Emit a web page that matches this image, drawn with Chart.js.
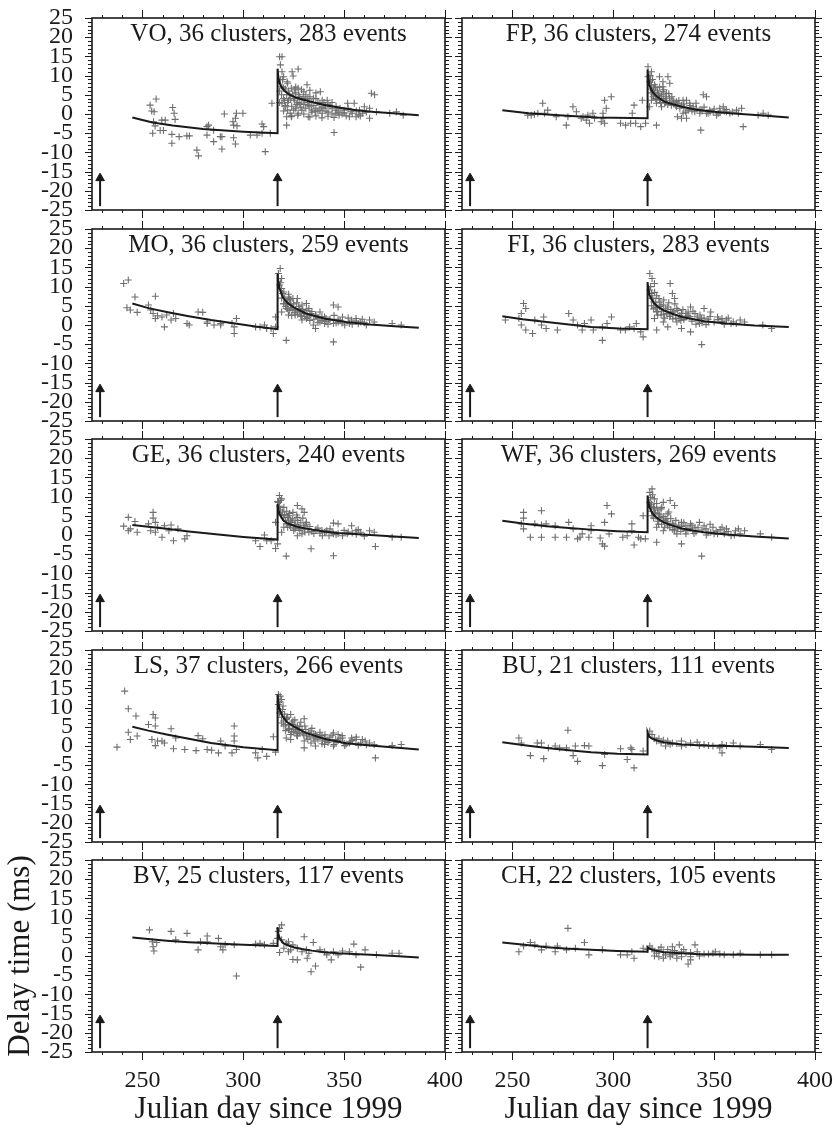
<!DOCTYPE html>
<html>
<head>
<meta charset="utf-8">
<script src="https://cdn.jsdelivr.net/npm/chart.js@4.4.1/dist/chart.umd.min.js"></script>
<style>
  html, body { margin: 0; padding: 0; background: #fff; }
  body { width: 836px; height: 1126px; position: relative; overflow: hidden; }
  canvas { position: absolute; }
</style>
</head>
<body>
<script>
const stations = ["VO", "FP", "MO", "FI", "GE", "WF", "LS", "BU", "BV", "CH"];
const clusters = [36, 36, 36, 36, 36, 36, 37, 21, 25, 22];
const events = [283, 274, 259, 283, 240, 269, 266, 111, 117, 105];

const xTicks = [250, 300, 350, 400];
const yTicks = [-25, -20, -15, -10, -5, 0, 5, 10, 15, 20, 25];
const arrowDays = [229, 317];
const arrowFrom = -24;
const arrowTo = -16.7;

// ================== delay times [day, ms] ==================
const voPoints = [
  [253.8,2.3],[256.8,3.9],[254.6,0.8],[255.8,0.6],[255.5,-2.0],[256.3,-3.1],[255.1,-5.0],[258.8,-4.3],[260.4,-4.3],[259.6,-1.6],
  [261.3,-1.6],[265,1.7],[265.7,0.2],[266.2,-1.4],[264.6,-5.3],[264.6,-7.6],[268.2,-5.9],[272,-5.7],[273.3,-5.7],[277,-9.4],
  [277.8,-10.9],[282,-3.3],[282.8,-2.9],[282,-5.5],[285.3,-4.2],[285.3,-7.2],[288.6,-5.9],[289.4,-5.9],[289.4,-9.1],[290.6,0.0],
  [294.9,-2.0],[295.2,-2.9],[296.1,-1.1],[296.6,0.2],[296.9,-3.1],[295.2,-6.2],[296.1,-7.8],[299.8,0.2],[303.5,-5.5],[306.8,-5.5],
  [309.3,-2.6],[310.1,-3.3],[310.9,-9.8],[309.3,-5.0],[313.4,-5.0],[314.2,2.8],
  [318,14.9],[319.2,14.9],[318.4,12.8],[319.2,11.0],[320,9.7],[318.4,8.9],[324.2,11.0],[327.2,11.7],[324.7,9.9],[331.6,7.6],
  [321.5,5.0],[322.4,3.6],[320.7,1.9],[323.2,0.2],[321.5,-0.7],[323.8,6.7],[325.5,6.3],[327.2,6.7],[328.9,6.3],[329.7,4.5],
  [325.5,3.6],[328,2.8],[330.5,3.6],[332.2,2.3],[333.9,1.0],[334.8,4.1],[338.2,5.8],[339.1,3.6],[341.6,3.6],[340.7,2.3],
  [344,1.5],[345.9,0.2],[347.5,-0.3],[345,-4.8],[321.5,-2.9],[323.8,-0.7],[327.2,0.2],[332.2,-0.7],[335.6,0.6],[339.1,0.2],
  [351.7,2.8],[355,2.8],[353.4,0.6],[355.9,-0.7],[352.6,-0.7],[357.6,1.0],[359.2,0.2],[360,1.9],[362.6,1.5],[363.5,5.4],
  [365.1,5.0],[362.6,-1.1],[366,0.6],[372.6,0.2],[375.9,0.6],[379.3,-0.3],[319.2,7.1],[321.7,8.4],[319.2,2.8],
  [322,3],[323,5],[324,2],[325,4],[326,1.5],[326,5.5],[327,3],[328,4.5],[329,1],[330,2.5],[331,5],[332,4],[333,2],[334,3],
  [336,1.5],[337,3],[338,1],[340,1.5],[342,0.5],[343,2],[346,1],[348,1.5],[349,0],[350,1],[318,6],[319,5],[320,4],[321,6.5],
  [318,3],[320,0.8],[322,1],[324,-0.5],[327,-0.3],[330,0],[333,-0.8],[336,-0.5],[339,-1],[342,-0.6],[345,-0.9],[351,-0.5],
  [354,0.2],[357,-0.2],[361,0.5],
  [320.5,3.5],[321,2.2],[322.5,6],[323.5,4],[324.5,5.2],[325,1],[326.5,2.5],[327.5,5],[328.5,1.8],[329,3.8],[330,5.8],[331,1.5],
  [332,3],[333,4.5],[334,0.5],[335,2.2],[336,4],[337,0.8],[338,2.5],[339,1.8],[340,3],[341,0.8],[342,2.5],[344,0],[344,3],
  [346,2],[347,0.5],[350,0.3],[352,1.5],[356,0.8],[358,-0.5],[320,6.8],[319.5,9],[322,8],[326,7],[333,6.2],[336,5.5]
];
const fpPoints = [
  [257.6,-0.3],[259.3,-0.3],[260.9,-0.1],[262.6,0.2],[265,2.8],[265.9,0.2],[267.5,1.0],[271.7,-0.7],[276.7,-2.9],[277.5,-0.7],
  [280,1.9],[281.7,0.6],[284.1,-1.1],[285,-0.7],[287.4,-0.3],[288.2,-2.4],[289.9,0.2],[290.7,-1.1],[294,-2.0],[294.9,0.2],
  [295.7,3.6],[296.5,1.5],[299,4.5],[295.7,-2.4],[303.6,-2.4],[306.1,-2.9],[308.6,-2.4],[309.4,0.2],[310.3,2.3],[311.1,-2.4],
  [313.6,-3.3],[314.4,3.6],[316,-2.4],[294.9,-1.1],[286.6,-1.6],
  [317.2,12.3],[318.9,11.0],[317.2,9.7],[318,8.4],[322.9,9.7],[327.1,9.7],[324.6,8.4],[328,8.0],[319.7,6.2],[322.2,5.4],
  [322.9,3.6],[324.6,5.8],[326.3,5.4],[327.9,4.1],[329.6,3.6],[331.3,3.2],[334.6,3.6],[336.3,3.6],[337.9,2.8],[339.6,1.9],
  [344.6,5.0],[346.2,4.5],[341.2,1.5],[334.6,0.2],[333.8,-1.1],[336.3,-1.1],[331.8,-0.7],[321.4,-2.9],[343.4,-4.2],[347.8,1.0],
  [352.8,1.5],[354.5,1.9],[356.1,0.6],[357.8,0.2],[361.1,1.0],[363.6,1.5],[364.4,-3.3],[371.8,-0.3],[374.3,0.2],[376.8,-0.3],
  [319.7,4.5],[321.4,2.8],[323.9,1.9],[326.3,3.6],[328.8,2.3],[331.3,1.9],[333.8,2.3],[337.1,1.0],[340.4,0.6],[342.9,0.2],
  [346.2,0.2],[349.5,0.6],[351.2,-0.3],[324.6,7.1],[320.5,7.6],[318.9,3.6],[318,1.9],
  [318.5,6.5],[319,5.5],[320,5],[321,4],[323,4.5],[325,4],[326,3],[328,3],[330,2.7],[332,2.8],[335,1.8],[338,1.5],[344,0.8],
  [348,0.5],[353,0.3],[356,1.2],
  [318.2,10],[318.5,8.8],[319,7.5],[319.5,9],[320,6.5],[320.5,5.5],[321,7],[321.5,3.8],[322,6],[322.5,4.8],[323,7],[323.5,3],
  [324,5],[325,6.3],[325.5,2.8],[326,4.5],[327,2.5],[327.5,5.3],[329,4.5],[330,3.2],[331,2.3],[332.5,3.5],[333,1.5],[335,2.6],
  [336,0.5],[338,2.2],[339,0.8],[341,2.8],[343,1.2],[345,1.8],[347,0.2],[350,1.3],[352,0.2],[355,0.8],[359,0.5],[362,0.2]
];
const moPoints = [
  [240.7,10.8],[243,11.7],[242.3,4.5],[244,3.9],[246.3,7.3],[247.4,3.3],[253,5.2],[254.1,3.9],[255.3,3.0],[256.4,7.5],
  [256.4,1.7],[257.5,2.4],[259.7,2.1],[260.9,-0.5],[262,2.6],[264.2,1.3],[265.4,3.0],[266.5,1.7],[272.1,0.4],[273.2,0],
  [277.6,3.4],[279.9,3.3],[282.1,0.4],[285.5,0],[288.8,0],[294.4,0.4],[295.5,-0.5],[295.5,-2.2],[296.6,1.7],[306.1,-0.5],
  [308.3,-0.5],[310.5,0],[311.6,-0.9],[314.9,-2.2],[316,2.1],[316,-0.5],[313.8,-0.9],[288.8,0.4],[282.1,0.8],
  [318.3,14.7],[317.4,13.4],[319,12.1],[318,10.4],[320.1,8.6],[322.4,7.3],[324.6,6.9],[326.8,6.9],[323.5,5.2],[328,4.3],
  [331.3,5.6],[330.2,3.4],[333.6,3.0],[335.8,2.6],[338,3.4],[340.3,2.1],[344.7,5.2],[347,4.7],[342.5,1.3],[344.7,0.4],
  [349.2,2.1],[353.7,1.3],[355.9,1.7],[358.2,0.8],[362.6,1.3],[364.9,0.8],[373.8,0.4],[378.3,0],[321.3,-4.0],[344.7,-4.4],
  [335.8,-0.9],[334.7,0],[329.1,1.3],[325.7,2.6],[321.3,4.3],[322.4,2.6],[320.1,5.6],[319,3.4],[326.8,3.4],[331.3,1.7],
  [338,0.8],[340.3,0.4],[347,0.8],[350.3,0],[352.6,0.4],[329.1,5.2],[332.5,4.3],[324.6,3.9],[323.5,6.5],
  [319,7],[320,5.5],[321,4.8],[322,5.8],[323,3.8],[324,4.5],[326,4],[327,2.8],[328,3.6],[329,2.2],[330,3],[332,2],[333,2.6],
  [335,1.5],[337,1.8],[339,1.2],[341,0.9],[343,1.5],[346,0.5],[348,1.1],[357,0.3],[360,0.6],
  [318.5,11],[319,9.5],[319.5,8.2],[320.5,7],[321.5,6],[322,4.2],[322.5,8],[323,6.8],[324,2.5],[325,5.5],[325.5,3.2],[326.5,5.8],
  [327.5,4.8],[328.5,2.4],[329.5,4],[330.5,2.2],[331.5,3.8],[333,1.2],[334,3.5],[336,2.4],[337,0.6],[339,2.2],[341,1.7],[342,0.2],
  [345,2.5],[347,1.5],[349,0.5],[352,1.8],[354,0.2],[356,1],[359,1.5],[361,0]
];
const fiPoints = [
  [246.5,1.3],[253.2,1.7],[254.4,3.0],[255.5,5.6],[256.6,4.3],[254.4,0],[256.6,-1.3],[260,-2.2],[261.1,1.3],[264.4,0],
  [265.5,2.1],[266.7,-0.9],[272.3,-1.3],[277.9,3.0],[280.1,1.3],[282.3,0],[284.6,-1.3],[285.7,0.4],[289,1.3],[290.1,-1.3],
  [294.6,-0.5],[294.6,-4.0],[296.9,0.4],[299.1,2.1],[303.6,-1.3],[308.1,-0.5],[310.3,-0.9],[311.4,0.4],[313.6,-1.8],[314.8,-3.1],
  [306,-1.3],
  [318.1,13.4],[319.2,12.1],[320.4,10.8],[328.2,10.8],[318.1,9.1],[322.6,6.9],[329.3,8.2],[330.4,6.9],[324.8,5.2],[327,4.7],
  [331.5,4.3],[321.5,3.4],[323.7,2.6],[329.3,3.4],[333.8,3.0],[336,2.1],[338.3,4.7],[345,4.3],[340.5,3.0],[343.8,1.7],
  [348.3,3.4],[351.7,2.1],[356.1,1.3],[359.5,0.8],[362.9,1.3],[374.1,0],[378.5,-0.9],[321.5,-1.3],[327,-0.5],[333.8,-0.9],
  [338.3,-1.8],[343.8,-5.1],[347.2,0.8],[342.7,0.4],[331.5,0.8],[324.8,0.8],[319.2,6.9],[320.4,1.7],[323.7,5.2],[328.2,2.6],
  [332.6,1.7],[337.1,3.4],[341.6,2.1],[353.9,1.7],[358.4,0.4],[365.1,0.8],
  [319,5],[320,4.2],[321,5.8],[322,3.5],[323,4.8],[325,2.8],[326,4.2],[328,2.2],[330,3.4],[331,1.8],[333,2.5],[335,1.4],
  [337,2.4],[339,1.0],[342,1.3],[344,0.6],[347,1.5],[350,0.8],[354,0.9],[361,0.4],
  [318.5,10],[319,8.2],[319.5,7],[320,6],[320.5,8.5],[321,4.6],[321.5,7.6],[322,2.6],[323,6],[324,3.6],[325,6.5],[325.5,1.8],
  [326.5,3],[327.5,5.8],[328.5,4],[329.5,1.6],[330.5,5.5],[332,3.8],[333.5,1.2],[334.5,4],[336,3],[338,2.2],[339.5,3.6],
  [341,0.2],[343,2.6],[345,1.8],[346,0.1],[348,2.2],[352,1.4],[355,0.2],[357,1.8]
];
const gePoints = [
  [240.7,2.3],[243,4.6],[243,1.1],[244,1.6],[246.3,3.5],[247.4,0.7],[253,2.9],[254.1,1.1],[255.3,5.9],[255.3,4.4],
  [256.4,3.3],[256.4,0.7],[257.5,2.0],[259.7,-0.6],[260.9,2.4],[264.2,2.6],[265.4,-1.5],[267.6,1.6],[271,-1.0],[272.1,-0.2],
  [263.1,1.1],[306.1,-1.5],[308.3,-3.0],[310.5,0],[311.6,-1.5],[313.8,-1.5],[316,-3.5],[316,3.3],[317,-2.3],
  [317.9,10.3],[319,9.4],[317.4,8.5],[320.1,7.2],[317,8.7],[326.8,7.7],[329.1,6.8],[330.2,5.9],[324.6,5.9],[322.4,5.0],
  [326.8,4.6],[331.3,3.3],[321.3,2.9],[323.5,2.0],[328,2.0],[330.2,1.6],[332.5,0.7],[321.3,-5.5],[333.6,-3.6],[344.7,3.1],
  [347,2.9],[340.3,0.7],[342.5,-0.2],[349.2,-0.2],[353.7,2.4],[355.9,1.1],[358.2,0.7],[362.6,1.1],[364.9,0.7],[344.7,-5.4],
  [365.5,-3.0],[373.8,-0.6],[378.3,-0.6],[319,0.7],[320.1,2.0],[323.5,3.7],[325.7,1.6],[329.1,0.3],[326.8,-0.2],[339.2,-0.2],
  [341.4,1.1],[344.7,0.3],[351.5,0.3],
  [318.5,6.5],[319,5],[320,4.5],[321,3.8],[322,4.6],[323,2.5],[324,3.3],[326,2.7],[327,3.8],[328,1.2],[330,2.4],[332,1.7],
  [334,0.9],[336,1.4],[338,0.5],[341,0.9],[344,0.6],[347,0.4],[352,0.8],[356,0.2],
  [318,7.5],[318.5,9],[319.5,6],[320.5,5.3],[321.5,6.2],[322,2],[322.5,3.4],[323,5.6],[324.5,4.2],[325,1.2],[325.5,2.8],
  [326.5,5.2],[327.5,1.8],[328.5,3.2],[329.5,4.4],[330.5,0.8],[331,2.8],[333,2.2],[335,0.4],[337,1.8],[339,1.2],[343,1.6],
  [346,0.1],[350,1.2],[354,0.5],[357,1.4],[360,-0.3]
];
const wfPoints = [
  [255.5,5.9],[255.5,4.4],[254.4,2.9],[255.5,1.6],[258.9,-0.6],[264.4,6.3],[264.4,-0.6],[261.1,2.9],[264.4,2.6],[266.7,2.9],
  [271.2,2.4],[271.2,-0.6],[276.8,-0.6],[277.9,3.3],[280.1,1.6],[282.3,-1.0],[283.5,-0.6],[284.6,0.3],[287.9,-0.6],[289,2.4],
  [293.5,-0.8],[294.6,-2.3],[295.7,-2.9],[295.7,3.3],[296.9,7.7],[299.1,5.5],[297.9,0.3],[304.7,-0.6],[306.9,-0.2],[309.2,2.9],
  [309.2,1.1],[310.3,-2.6],[312.5,-0.6],[313.6,-1.0],[314.8,5.0],[315.9,-1.0],[289,1.1],
  [319.2,12.0],[318.1,11.1],[320.4,9.4],[318.1,8.5],[324.8,8.5],[328.2,9.0],[323.7,6.8],[330.4,7.7],[327,5.5],[322.6,4.2],
  [326,4.2],[329.3,2.9],[333.8,3.3],[336,2.4],[338.3,2.9],[340.5,2.0],[342.7,3.3],[345,2.4],[349.4,2.0],[353.9,2.0],
  [356.1,1.6],[360.6,1.1],[365.1,1.1],[372.9,0.3],[378.5,-0.6],[321.5,-1.9],[333.8,-2.3],[343.8,-5.5],[331.5,0.3],[336,0.3],
  [346.1,0],[351.7,0.3],[358.4,-0.2],[319.2,5.0],[321.5,2.0],[324.8,1.1],[327,2.4],[330.4,1.1],[320.4,6.8],[322.6,5.5],
  [339.4,1.1],[348.3,0.7],[355,0.7],[362.9,0.3],
  [318.5,7.5],[319,6.2],[320,4.4],[321,5.6],[322,3.6],[323,4.6],[324,2.8],[325,3.8],[327,3.1],[328,1.9],[330,2.6],[332,1.6],
  [334,2.2],[336,1.2],[338,1.7],[341,0.8],[344,1.3],[347,0.6],[351,1.0],[355,0.3],
  [318.5,9.8],[319,8],[319.5,10.5],[320,7.2],[320.5,5.8],[321.5,8.2],[322,6.5],[322.5,2.8],[323,5.2],[324,7.2],[325,4.8],
  [325.5,2],[326.5,3.6],[327.5,6],[328.5,4.3],[329.5,1.4],[331,3.8],[332.5,2.6],[333.5,0.9],[335,3.2],[337,1.5],[339,2.4],
  [340,0.4],[342,1.9],[346,1.6],[348,2.8],[350,0.3],[353,1.4],[357,0.9],[360,0],[362,1.6]
];
const lsPoints = [
  [237.4,-0.3],[241.2,14.3],[243,9.7],[243,3.6],[244,1.7],[246.8,7.8],[247.4,2.6],[253,5.6],[255.3,8.2],[256.4,7.3],
  [256.4,5.2],[254.7,1.7],[256.4,0.1],[257.5,1.3],[259.7,1.3],[260.9,0.8],[264.2,4.5],[265.4,-0.7],[266.5,2.1],[271,-0.9],
  [276.6,-1.2],[277.6,2.7],[279.9,1.9],[282.1,-0.9],[284.3,-1.1],[287.7,-1.8],[288.8,1.3],[291,0],[295.5,5.2],[295.5,2.6],
  [295.5,1.3],[294.4,-1.8],[296.6,-0.9],[306.1,-1.8],[307.2,-3.1],[309.4,-0.9],[311.6,-2.7],[314.9,2.4],[316,-1.6],
  [317.4,13.4],[318.3,13.0],[319,12.1],[317.4,10.8],[319.7,10.4],[318,8.6],[321.3,6.9],[324.6,6.5],[330.2,7.1],[326.8,5.2],
  [329.1,4.3],[322.4,4.3],[333.6,3.9],[335.8,3.0],[338,2.6],[340.3,2.1],[344.7,3.4],[347,3.0],[349.2,2.1],[353.7,2.1],
  [355.9,1.7],[360.4,1.3],[362.6,0.8],[364.9,0.4],[365.5,-3.1],[373.8,0.1],[378.3,0.4],[330.2,-0.5],[335.8,0],[340.3,0.4],
  [344.7,0],[350.3,0.1],[320.1,5.2],[323.5,3.0],[326.8,2.6],[330.2,1.3],[333.6,0.8],[339.2,1.3],[323.5,1.7],[321.3,2.1],
  [328,3.4],[331.3,2.6],[334.7,2.1],[342.5,1.3],[345.8,1.7],[352.6,0.8],[358.2,0.8],[319,6.0],[325.7,4.3],
  [318.5,9],[319,7.5],[320,6.5],[321,5.6],[322,7.5],[323,4.6],[324,6],[325,3.8],[326,4.9],[327,3.3],[328,5.1],[330,2.9],
  [331,4.3],[333,2.4],[335,3.2],[337,1.8],[339,2.7],[341,1.3],[343,2.3],[346,1.0],[348,1.9],[351,0.5],[354,1.4],
  [318.2,11.5],[319.5,9.5],[320.5,8.3],[321,4],[321.5,7.2],[322.5,5.4],[323.5,8.2],[324,3.6],[324.5,5.6],[325.5,6.8],[326.5,2.8],
  [327.5,4.2],[328.5,6.2],[329.5,3.4],[330.5,5.2],[332,1.8],[332.5,3.6],[334,4.6],[335.5,1.3],[336.5,2.6],[338,3.6],[339,0.6],
  [340.5,2.9],[342,0.9],[344,2.8],[345,0.4],[347,1.4],[349,2.7],[350,0.7],[353,1.1],[356,2.3],[357,0.2],[359,1.7],[361,0.3]
];
const buPoints = [
  [253.2,2.1],[254.4,0.8],[258.9,-2.5],[262.3,0.8],[264.4,0.8],[265.5,-3.3],[267.8,-0.5],[271.2,0],[273.4,-0.5],[276.8,-0.5],
  [277.5,4.1],[280.1,-2.5],[282.3,-4.0],[281.2,0],[285.7,0.1],[287.9,0],[294.6,-5.1],[295.7,-2.2],[303.6,-0.7],[306.9,-3.5],
  [308.7,-0.5],[310.3,-5.7],[309.2,-0.9],[314.8,-1.3],
  [318.1,3.9],[319.2,3.0],[320.4,2.1],[322.6,1.9],[324.8,1.5],[327,1.3],[329.3,0.8],[331.5,0.6],[333.8,1.3],[336,0.4],
  [341.6,1.0],[342.7,0.1],[349.4,0],[352.8,-0.5],[353.9,-1.8],[353.9,0.4],[356.1,0.1],[359.5,0.8],[362.9,0],[372.9,0.4],
  [378.5,-0.9],[325.9,0],[333.8,0],[321.5,1.3],[323.7,0.8],[328.2,0.4],[338.3,0.8],[345,0.4],[347.2,0.1]
];
const bvPoints = [
  [253.5,6.8],[254.9,3.7],[255.3,2.4],[255.7,1.3],[257.1,3.5],[264.2,6.4],[266.5,4.2],[272.1,5.9],[277.6,1.6],[278.8,3.7],
  [282.1,5.2],[287.7,4.6],[288.8,2.4],[289.9,1.6],[291,2.9],[295.5,2.9],[296.6,-5.2],[306.1,3.1],[308.3,3.3],[310.5,2.9],
  [314.9,3.3],[282.1,3.7],
  [317.4,6.4],[319,8.1],[318,7.2],[317,4.6],[319,4.2],[321.3,3.3],[322.4,3.7],[324.6,2.9],[326.8,2.0],[330.2,5.0],
  [334.7,3.5],[331.3,1.6],[318,0.9],[322.4,1.1],[324.6,-0.9],[326.8,-1.0],[331.7,-0.6],[333.6,-4.1],[335.8,-2.6],[338,1.6],
  [340.3,1.1],[343.6,-1.0],[344.7,1.1],[349.2,1.3],[352.6,1.1],[354.8,3.1],[355.9,0.3],[358.2,-2.9],[360.4,1.6],[366,0.3],
  [373.8,0.7],[377.2,0.7],[320.1,2.0],[323.5,1.6],[329.1,1.1],[332.5,0.7],[341.4,0.3],[347,0.3]
];
const chPoints = [
  [253.2,1.1],[255.5,2.6],[258.9,3.5],[261.1,2.9],[264.4,1.6],[266.7,2.6],[271.2,1.1],[272.3,2.6],[277.5,7.2],[276.8,1.6],
  [281.2,2.0],[285.7,3.5],[287.9,0.3],[294.6,1.6],[303.6,0.3],[306.9,0.3],[309.2,1.1],[310.3,-0.6],[314.8,2.0],
  [317,1.7],[318.1,2.6],[319.2,2.0],[320.4,1.1],[321.5,0.7],[322.6,1.6],[323.7,2.3],[324.8,1.1],[325.9,0.3],[327,1.7],
  [328.2,0.9],[329.3,2.4],[330.4,1.4],[331.5,0.5],[332.7,2.9],[333.8,1.1],[334.9,1.7],[336,0.7],[338.3,0.9],[340.5,2.9],
  [341.6,1.1],[337.1,-2.1],[342.7,0],[347.2,0.5],[350.6,1.1],[352.8,0.5],[355,0.3],[359.5,0.3],[362.9,0.7],[372.9,0.3],
  [378.5,0.3],[322.6,-0.2],[324.8,-0.6],[328.2,-0.2],[331.5,-0.6],[320.4,0],[329.3,0.3],[333.8,-0.2],[338.3,-0.2],[345,0.5],
  [349.4,0.7],[338.3,-1.0]
];

// ================== fitted curves [day, ms] ==================
const voFit = [[245,-0.9],[255,-2.2],[265,-3.0],[280,-3.9],[300,-4.6],[317,-5.0],[317,11.8],[317.4,9.5],[318,8.0],[319,7.0],[320.5,6.0],[323,5.0],[326,4.3],[330,3.7],[335,3.0],[341,2.3],[348,1.6],[356,1.0],[365,0.5],[376,0.1],[387,-0.3]];
const fpFit = [[245,1.0],[258,0.2],[275,-0.4],[292,-0.9],[317,-1.1],[317,11.6],[317.4,9.2],[318,7.3],[319.5,5.7],[321.5,4.6],[325,3.3],[329,2.6],[334,1.9],[341,1.1],[350,0.6],[358,0.2],[374,-0.4],[387,-0.9]];
const moFit = [[245,5.6],[253,4.4],[262,3.4],[273,2.3],[284,1.3],[296,0.4],[306,-0.4],[317,-1.1],[317,13.4],[317.4,11.2],[318,9.5],[319,8.0],[320,6.9],[322,5.7],[325,4.6],[331,3.0],[340,1.7],[351,0.8],[363,0.1],[375,-0.3],[387,-0.7]];
const fiFit = [[245,2.3],[255,1.5],[267,0.8],[278,0.1],[289,-0.5],[303,-0.9],[317,-1.1],[317,11.2],[317.4,9.3],[318,7.8],[319,6.6],[320.4,5.6],[322.5,4.6],[325,3.8],[329,3.0],[334,2.1],[340,1.5],[345,1.0],[356,0.4],[370,-0.1],[387,-0.5]];
const geFit = [[245,2.6],[262,1.6],[273,0.9],[284,0.3],[300,-0.5],[317,-1.2],[317,8.1],[317.4,6.6],[318,5.5],[319,4.5],[320,3.7],[322,3.0],[325,2.4],[329,1.9],[334,1.4],[340,0.9],[347,0.5],[363,0],[375,-0.4],[387,-0.8]];
const wfFit = [[245,3.7],[256,2.9],[267,2.3],[278,1.8],[289,1.4],[302,1.0],[317,0.7],[317,10.3],[317.4,8.5],[318,7.2],[319,6.0],[320.4,5.0],[322.5,4.1],[325,3.3],[329,2.5],[334,1.7],[340,1.1],[345,0.7],[356,0.1],[370,-0.4],[387,-0.9]];
const lsFit = [[245,5.0],[253,4.0],[262,3.0],[273,1.9],[284,0.8],[300,-0.3],[317,-1.1],[317,13.4],[317.4,11.2],[318,9.5],[319,8.3],[320,7.3],[322,6.1],[325,5.1],[331,3.4],[340,1.9],[351,0.7],[363,0.1],[375,-0.4],[387,-0.9]];
const buFit = [[245,1.0],[256,0.2],[267,-0.5],[278,-1.1],[289,-1.6],[302,-2.0],[317,-2.2],[317,3.6],[317.4,3.0],[318,2.4],[319,2.0],[320.4,1.7],[322.5,1.3],[325,1.0],[329,0.7],[334,0.4],[345,0.1],[356,0],[370,-0.2],[387,-0.5]];
const bvFit = [[245,4.8],[262,4.0],[273,3.6],[284,3.3],[300,2.9],[317,2.6],[317,7.5],[317.4,5.8],[318,4.6],[319,3.9],[320,3.3],[322,2.8],[325,2.3],[329,1.8],[334,1.4],[340,1.0],[347,0.7],[363,0.3],[375,0],[387,-0.4]];
const chFit = [[245,3.5],[256,2.9],[267,2.3],[278,1.9],[289,1.6],[302,1.3],[317,1.1],[317,2.3],[318,1.9],[319.5,1.6],[322,1.3],[325,1.0],[334,0.7],[345,0.4],[356,0.4],[370,0.3],[387,0.3]];

const pointSets = [voPoints, fpPoints, moPoints, fiPoints, gePoints, wfPoints, lsPoints, buPoints, bvPoints, chPoints];
const fitSets = [voFit, fpFit, moFit, fiFit, geFit, wfFit, lsFit, buFit, bvFit, chFit];

const serif = "'Liberation Serif', 'Times New Roman', serif";
const ink = "#1a1a1a";

// frame, outward ticks and the station label inside the panel
const framePlugin = {
  id: "frame",
  afterDatasetsDraw(chart, args, opts) {
    const { ctx, chartArea: a, scales: { x, y } } = chart;
    ctx.save();
    ctx.strokeStyle = ink;
    ctx.lineWidth = 1;
    ctx.beginPath();
    for (let d = 230; d <= 400; d += 10) {
      const px = Math.round(x.getPixelForValue(d)) + 0.5;
      const len = d % 50 === 0 ? 8 : 3;
      ctx.moveTo(px, a.top); ctx.lineTo(px, a.top - len);
      ctx.moveTo(px, a.bottom); ctx.lineTo(px, a.bottom + len);
    }
    for (let v = -25; v <= 25; v++) {
      const py = Math.round(y.getPixelForValue(v)) + 0.5;
      const len = v % 5 === 0 ? 7 : 4;
      ctx.moveTo(a.left, py); ctx.lineTo(a.left - len, py);
      ctx.moveTo(a.right, py); ctx.lineTo(a.right + len, py);
    }
    ctx.stroke();
    ctx.lineWidth = 1.6;
    ctx.strokeRect(a.left, a.top, a.right - a.left, a.bottom - a.top);
    ctx.fillStyle = ink;
    ctx.font = "25px " + serif;
    ctx.textAlign = "center";
    ctx.textBaseline = "alphabetic";
    ctx.fillText(opts.label, (a.left + a.right) / 2, a.top + 23);
    ctx.restore();
  },
};

stations.forEach((st, i) => {
  const row = Math.floor(i / 2);
  const col = i % 2;
  const last = row === 4;
  const left = col === 0 ? 0 : 440;
  const width = col === 0 ? 465 : 396;
  const top = Math.round(row * 210.5);
  const height = last ? 1126 - top : 224;

  const canvas = document.createElement("canvas");
  canvas.width = width;
  canvas.height = height;
  canvas.style.left = left + "px";
  canvas.style.top = top + "px";
  canvas.style.width = width + "px";
  canvas.style.height = height + "px";
  document.body.appendChild(canvas);

  const arrows = arrowDays.map((d) => ({
    type: "line",
    data: [{ x: d, y: arrowFrom }, { x: d, y: arrowTo }],
    borderColor: ink,
    borderWidth: 2,
    pointRadius: [0, 5],
    pointStyle: "triangle",
    pointBackgroundColor: ink,
    pointBorderColor: ink,
    pointBorderWidth: 1,
    order: 0,
  }));

  new Chart(canvas, {
    type: "scatter",
    data: {
      datasets: [
        {
          type: "line",
          data: fitSets[i].map(([x, y]) => ({ x, y })),
          borderColor: ink,
          borderWidth: 2,
          pointRadius: 0,
          tension: 0,
          order: 0,
        },
        {
          data: pointSets[i].map(([x, y]) => ({ x, y })),
          pointStyle: "cross",
          pointRadius: 3.5,
          borderColor: "#6e6e6e",
          borderWidth: 1.1,
          order: 1,
        },
        ...arrows,
      ],
    },
    options: {
      responsive: false,
      animation: false,
      layout: {
        padding: { left: col === 0 ? 0 : 22, right: col === 0 ? 20 : 21, top: 18, bottom: last ? 0 : 14 },
      },
      plugins: {
        legend: { display: false },
        tooltip: { enabled: false },
        frame: { label: `${st}, ${clusters[i]} clusters, ${events[i]} events` },
      },
      scales: {
        x: {
          type: "linear",
          min: 225,
          max: 400,
          display: last,
          afterBuildTicks: (s) => { s.ticks = xTicks.map((v) => ({ value: v })); },
          afterFit: (s) => {
            if (last) s.height = 74;
            s.paddingLeft = 0;
            s.paddingRight = 0;
          },
          grid: { display: false, drawTicks: false },
          border: { display: false },
          ticks: { font: { family: serif, size: 24, lineHeight: 1 }, color: ink, padding: 17, autoSkip: false, maxRotation: 0 },
          title: {
            display: true,
            text: "Julian day since 1999",
            color: ink,
            font: { family: serif, size: 31, lineHeight: 1 },
            padding: { top: 0, bottom: 1 },
          },
        },
        y: {
          type: "linear",
          min: -25,
          max: 25,
          display: col === 0,
          afterBuildTicks: (s) => { s.ticks = yTicks.map((v) => ({ value: v })); },
          afterFit: (s) => {
            if (col === 0) s.width = 92;
            s.paddingTop = 0;
            s.paddingBottom = 0;
          },
          grid: { display: false, drawTicks: false },
          border: { display: false },
          ticks: { font: { family: serif, size: 24, lineHeight: 1 }, color: ink, padding: 19, autoSkip: false },
          title: {
            display: last,
            text: "Delay time (ms)",
            color: ink,
            font: { family: serif, size: 31, lineHeight: 1 },
            padding: { top: 5, bottom: 0 },
          },
        },
      },
    },
    plugins: [framePlugin],
  });
});
</script>
</body>
</html>
